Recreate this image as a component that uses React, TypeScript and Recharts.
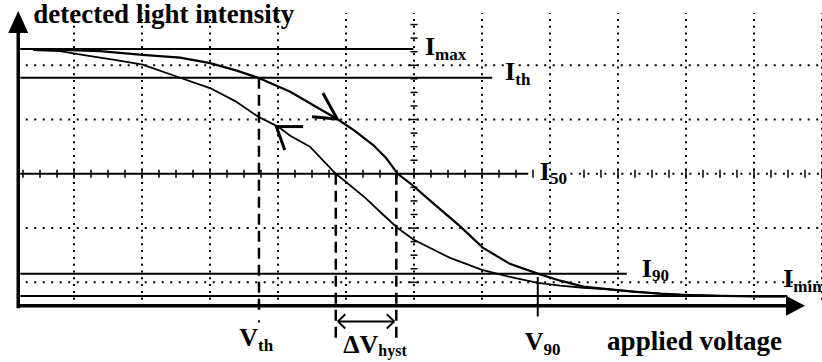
import { ComposedChart, Line, Scatter, XAxis, YAxis, ReferenceLine, ReferenceDot } from 'recharts'

// scope screen units: x in divisions of applied voltage, y in divisions of light intensity
const upVolt = [0.4, 0.94, 1.38, 2.01, 2.56, 3.0, 3.37, 3.71, 4.18, 4.54, 4.87, 5.13, 5.4, 5.59, 5.76, 5.94, 6.28, 6.68, 7.01, 7.41, 7.82, 8.15, 8.49, 8.88, 9.22, 9.62, 9.96, 10.5, 11.09, 11.46]
const upInt = [5.3, 5.28, 5.26, 5.19, 5.14, 5.04, 4.91, 4.77, 4.51, 4.25, 4.01, 3.79, 3.53, 3.29, 3.0, 2.83, 2.46, 2.03, 1.64, 1.34, 1.16, 1.03, 0.92, 0.87, 0.83, 0.79, 0.77, 0.75, 0.74, 0.74]
const downVolt = [0.4, 0.79, 1.24, 1.6, 2.01, 2.56, 3.0, 3.37, 3.71, 4.0, 4.18, 4.47, 4.85, 4.96, 5.28, 5.5, 5.75, 5.99, 6.53, 7.0, 7.41, 7.82, 8.15, 8.49, 8.88, 9.22, 9.62, 9.96, 10.5, 11.09, 11.46]
const downInt = [5.28, 5.26, 5.17, 5.1, 5.01, 4.77, 4.58, 4.34, 4.05, 3.87, 3.7, 3.5, 3.0, 2.89, 2.56, 2.3, 2.01, 1.79, 1.45, 1.23, 1.1, 0.99, 0.94, 0.9, 0.87, 0.83, 0.79, 0.77, 0.75, 0.74, 0.74]

// intensity levels and how far each line runs to the right
const levelNames = ['max', 'th', '50', '90', 'min']
const levelValues = [5.3, 4.77, 3.0, 1.16, 0.75]
const levelEnds = [5.99, 7.15, 7.68, 9.13, 11.49]
const levelLabelX = [6.16, 7.34, 7.85, 9.35, 11.43]
const levelLabelY = [5.19, 4.73, 2.89, 1.09, 0.92]

// characteristic voltages
const vTh = 3.72
const vHystLow = 4.85
const vHystHigh = 5.74
const v90 = 7.82

const gridVolt = [1, 2, 3, 4, 5, 7, 8, 9, 10, 11, 12]
const gridInt = [1, 2, 4, 5]
const centerVoltTicks = [0.25, 0.5, 0.75, 1, 1.25, 1.5, 1.75, 2, 2.25, 2.5, 2.75, 3, 3.25, 3.5, 3.75, 4, 4.25, 4.5, 4.75, 5, 5.25, 5.5, 5.75, 6, 6.25, 6.5, 6.75, 7, 7.25, 7.5, 7.75, 8.5, 8.75, 9, 9.25, 9.5, 9.75, 10, 10.25, 10.5, 10.75, 11, 11.25, 11.5, 11.75, 12]
const centerIntTicks = [0.75, 1, 1.25, 1.5, 1.75, 2, 2.25, 2.5, 2.75, 3, 3.25, 3.5, 3.75, 4, 4.25, 4.5, 4.75, 5, 5.25, 5.5, 5.75]

const axisX = 0.18
const axisY = 0.57

const upTrace = upVolt.map((x, i) => ({ x, y: upInt[i] }))
const downTrace = downVolt.map((x, i) => ({ x, y: downInt[i] }))
const hTicks = centerVoltTicks.map(x => ({ x, y: 3 }))
const vTicks = centerIntTicks.map(y => ({ x: 6, y }))

const FONT = '"Liberation Serif", "Times New Roman", serif'

function Tag({ cx, cy, main, sub, size = 26, subSize = 17, dy = 5 }: any) {
  return (
    <text x={cx} y={cy} fontFamily={FONT} fontWeight="bold" fontSize={size} fill="#000">
      {main}
      {sub && <tspan fontSize={subSize} dy={dy}>{sub}</tspan>}
    </text>
  )
}

const HTick = (p: any) => {
  const big = Number.isInteger(p.payload.x)
  return <line x1={p.cx} x2={p.cx} y1={p.cy - (big ? 5 : 4)} y2={p.cy + (big ? 5 : 4)} stroke="#000" strokeWidth={1.5} />
}
const VTick = (p: any) => {
  const big = Number.isInteger(p.payload.y)
  return <line x1={p.cx - (big ? 5 : 3.5)} x2={p.cx + (big ? 5 : 3.5)} y1={p.cy} y2={p.cy} stroke="#000" strokeWidth={1.5} />
}

const seg = (x1: number, y1: number, x2: number, y2: number) => [{ x: x1, y: y1 }, { x: x2, y: y2 }]

export default function App() {
  return (
    <div style={{ position: 'absolute', left: 0, top: 0, background: '#fff' }}>
      <ComposedChart width={822} height={362} margin={{ top: 11, right: 0, bottom: 1, left: 6 }}>
        <XAxis type="number" dataKey="x" domain={[0, 12]} hide allowDataOverflow />
        <YAxis type="number" dataKey="y" domain={[-0.45, 6]} hide allowDataOverflow />

        {gridVolt.map(v => (
          <ReferenceLine key={'gv' + v} segment={seg(v, 0.68, v, 5.96)} stroke="#000" strokeWidth={2} strokeDasharray="2 4.8" ifOverflow="visible" />
        ))}
        {gridInt.map(v => (
          <ReferenceLine key={'gi' + v} segment={seg(0.29, v, 12, v)} stroke="#000" strokeWidth={2} strokeDasharray="2 6.5" ifOverflow="visible" />
        ))}
        <ReferenceLine segment={seg(6, 0.68, 6, 5.96)} stroke="#000" strokeWidth={2} strokeDasharray="2 4.8" ifOverflow="visible" />
        <ReferenceLine segment={seg(8.3, 3, 12, 3)} stroke="#000" strokeWidth={2} strokeDasharray="2 6.5" ifOverflow="visible" />
        <Scatter data={hTicks} shape={HTick} isAnimationActive={false} />
        <Scatter data={vTicks} shape={VTick} isAnimationActive={false} />

        {levelValues.map((v, i) => (
          <ReferenceLine key={'lv' + i} segment={seg(axisX + 0.03, v, levelEnds[i], v)} stroke="#000" strokeWidth={2} ifOverflow="visible" />
        ))}

        <ReferenceLine segment={seg(vTh, 4.77, vTh, 0.42)} stroke="#000" strokeWidth={2.5} strokeDasharray="11 6" ifOverflow="visible" />
        <ReferenceLine segment={seg(vTh, 0.3, vTh, 0.26)} stroke="#000" strokeWidth={2} ifOverflow="visible" />
        <ReferenceLine segment={seg(vHystLow, 3.0, vHystLow, -0.05)} stroke="#000" strokeWidth={2.5} strokeDasharray="11 6" ifOverflow="visible" />
        <ReferenceLine segment={seg(vHystHigh, 3.0, vHystHigh, -0.05)} stroke="#000" strokeWidth={2.5} strokeDasharray="11 6" ifOverflow="visible" />
        <ReferenceLine segment={seg(v90, 1.1, v90, 0.37)} stroke="#000" strokeWidth={2} ifOverflow="visible" />

        <ReferenceLine segment={seg(vHystLow + 0.03, 0.28, vHystHigh - 0.03, 0.28)} stroke="#000" strokeWidth={2} ifOverflow="visible" />
        <ReferenceLine segment={seg(vHystLow + 0.03, 0.28, vHystLow + 0.14, 0.41)} stroke="#000" strokeWidth={2} ifOverflow="visible" />
        <ReferenceLine segment={seg(vHystLow + 0.03, 0.28, vHystLow + 0.14, 0.15)} stroke="#000" strokeWidth={2} ifOverflow="visible" />
        <ReferenceLine segment={seg(vHystHigh - 0.03, 0.28, vHystHigh - 0.14, 0.41)} stroke="#000" strokeWidth={2} ifOverflow="visible" />
        <ReferenceLine segment={seg(vHystHigh - 0.03, 0.28, vHystHigh - 0.14, 0.15)} stroke="#000" strokeWidth={2} ifOverflow="visible" />

        <Line data={upTrace} dataKey="y" type="linear" stroke="#000" strokeWidth={2.2} dot={false} isAnimationActive={false} />
        <Line data={downTrace} dataKey="y" type="linear" stroke="#000" strokeWidth={1.8} dot={false} isAnimationActive={false} />

        <ReferenceLine segment={seg(4.5, 4.05, 4.87, 4.01)} stroke="#000" strokeWidth={3} ifOverflow="visible" />
        <ReferenceLine segment={seg(4.66, 4.49, 4.87, 4.01)} stroke="#000" strokeWidth={3} ifOverflow="visible" />
        <ReferenceLine segment={seg(3.97, 3.87, 4.37, 3.87)} stroke="#000" strokeWidth={3} ifOverflow="visible" />
        <ReferenceLine segment={seg(3.97, 3.89, 4.1, 3.44)} stroke="#000" strokeWidth={3} ifOverflow="visible" />

        <ReferenceLine segment={seg(axisX, 0.52, axisX, 5.6)} stroke="#000" strokeWidth={3.5} ifOverflow="visible" />
        <ReferenceLine segment={seg(axisX - 0.02, axisY, 11.5, axisY)} stroke="#000" strokeWidth={3.5} ifOverflow="visible" />
        <ReferenceDot x={axisX} y={6.0} r={0} ifOverflow="visible"
          shape={(p: any) => <polygon points={`${p.cx},${p.cy} ${p.cx - 10},${p.cy + 22} ${p.cx + 10},${p.cy + 22}`} fill="#000" />} />
        <ReferenceDot x={11.75} y={axisY} r={0} ifOverflow="visible"
          shape={(p: any) => <polygon points={`${p.cx},${p.cy} ${p.cx - 19},${p.cy - 10} ${p.cx - 19},${p.cy + 10}`} fill="#000" />} />

        {levelNames.map((n, i) => (
          <ReferenceDot key={'ln' + n} x={levelLabelX[i]} y={levelLabelY[i]} r={0} ifOverflow="visible"
            shape={(p: any) => <Tag cx={p.cx} cy={p.cy} main="I" sub={n} dy={n === '50' || n === '90' ? 4 : 5} />} />
        ))}
        <ReferenceDot x={0.4} y={5.78} r={0} ifOverflow="visible"
          shape={(p: any) => <Tag cx={p.cx} cy={p.cy} main="detected light intensity" size={27} />} />
        <ReferenceDot x={8.84} y={-0.24} r={0} ifOverflow="visible"
          shape={(p: any) => <Tag cx={p.cx} cy={p.cy} main="applied voltage" size={27} />} />
        <ReferenceDot x={3.43} y={-0.18} r={0} ifOverflow="visible"
          shape={(p: any) => <Tag cx={p.cx} cy={p.cy} main="V" sub="th" />} />
        <ReferenceDot x={4.96} y={-0.31} r={0} ifOverflow="visible"
          shape={(p: any) => <Tag cx={p.cx} cy={p.cy} main="ΔV" sub="hyst" subSize={16} dy={3} />} />
        <ReferenceDot x={7.63} y={-0.24} r={0} ifOverflow="visible"
          shape={(p: any) => <Tag cx={p.cx} cy={p.cy} main="V" sub="90" />} />
      </ComposedChart>
    </div>
  )
}
